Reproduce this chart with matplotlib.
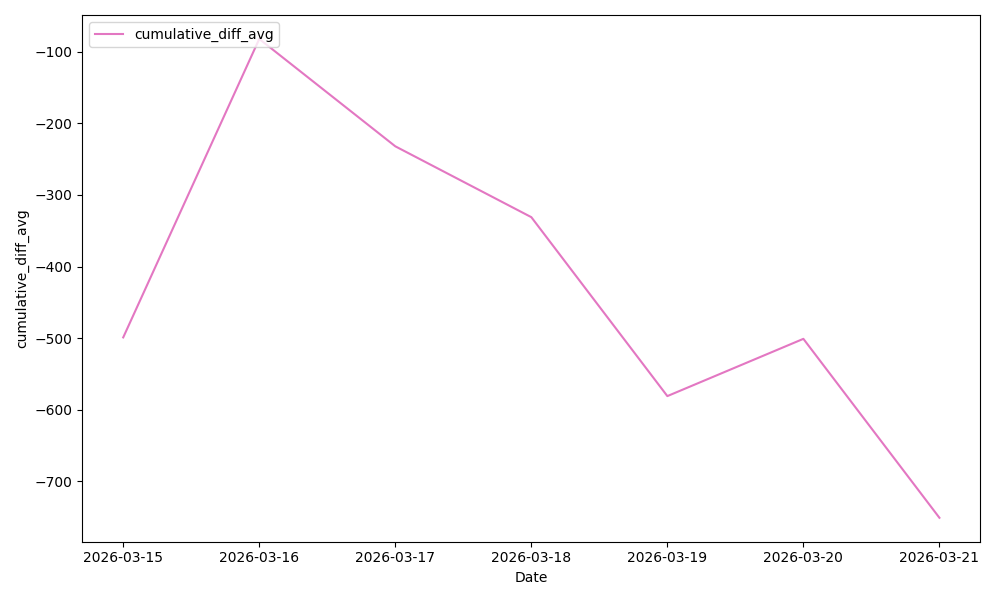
import pandas as pd
import matplotlib
matplotlib.use("Agg")
import matplotlib.pyplot as plt

dates = ["2026-03-15", "2026-03-16", "2026-03-17", "2026-03-18",
         "2026-03-19", "2026-03-20", "2026-03-21"]
cumulative_diff_avg = [-499, -82, -232, -331, -581, -501, -751]

data = pd.DataFrame({"Date": pd.to_datetime(dates),
                     "cumulative_diff_avg": cumulative_diff_avg})

fig, ax = plt.subplots(figsize=(10, 6), dpi=100)
ax.plot(data["Date"], data["cumulative_diff_avg"], color="#e377c2",
        label="cumulative_diff_avg")
ax.set_xticks(data["Date"])
ax.set_xticklabels(dates)
ax.set_xlabel("Date")
ax.set_ylabel("cumulative_diff_avg")
ax.legend(loc="upper left")
fig.tight_layout()
fig.savefig("out.png")
